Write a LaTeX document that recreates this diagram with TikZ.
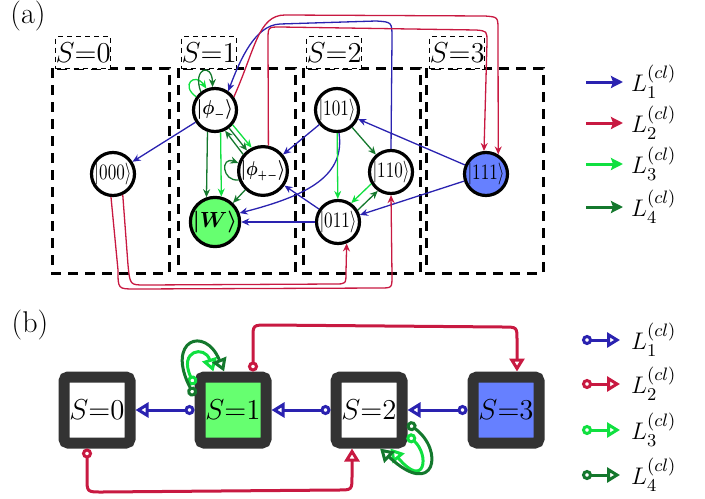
\documentclass[tikz,border=0pt]{standalone}
\usepackage{amsmath}
\usepackage{bm}
\usetikzlibrary{arrows.meta,calc}

\definecolor{cone}{HTML}{2A22B0}
\definecolor{ctwo}{HTML}{C81941}
\definecolor{cthree}{HTML}{10E040}
\definecolor{cfour}{HTML}{14782D}
\definecolor{wfill}{HTML}{66FF70}
\definecolor{tfill}{HTML}{6680FF}
\definecolor{boxgray}{HTML}{333333}

\newcommand{\nar}[2][0.78]{\scalebox{#1}[1]{#2}}

\begin{document}
\begin{tikzpicture}[x=0.5pt, y=-0.5pt,
  state/.style = {circle, draw, line width=1.6pt,
    minimum size=21.5pt, inner sep=0pt, fill=white, font=\fontsize{11}{13}\selectfont},
  colbox/.style = {draw, line width=1.5pt, dash pattern=on 5pt off 3.5pt},
  tagbox/.style = {draw, fill=white, line width=0.7pt,
    dash pattern=on 2.5pt off 2pt, minimum width=26.5pt, minimum height=16pt,
    inner sep=0pt, anchor=north west, font=\fontsize{14}{16}\selectfont},
  sbox/.style = {draw=boxgray, line width=5.5pt, rounded corners=2pt,
    minimum size=33pt, inner sep=0pt, font=\fontsize{15.5}{18}\selectfont},
  jump/.style = {line width=0.65pt, -{Stealth[length=4pt,width=3.5pt]}},
  legarrow/.style = {line width=1.5pt, -{Stealth[length=6pt,width=6pt,inset=1pt]}},
  rate/.style = {line width=1.5pt, {Circle[open,length=5pt]}-{Triangle[open,length=6.5pt,width=7.5pt]}},
  lab/.style = {anchor=west, font=\fontsize{13}{15}\selectfont}]
\useasboundingbox (0,0) rectangle (705,498);

% (a) sectors
\node[font=\fontsize{15}{17}\selectfont] (pa) at (28,16) {(a)};
\foreach \x/\s in {52/0,178/1,303/2,426/3} {
  \draw[colbox] (\x,68) rectangle ++(117,205);
  \node[tagbox] (tag\s) at (\x+3,36) {$S{=}\s$};
}

\node[state] (n000) at (113,174) {\nar{$|000\rangle$}};
\node[state, font=\normalsize] (phim) at (215,110) {\nar[0.85]{$\bm{|\phi_{\scriptscriptstyle -}\rangle}$}};
\node[state, font=\normalsize] (phipm) at (263,171) {\nar[0.82]{$\bm{|\phi_{\scriptscriptstyle +-}\rangle}$}};
\node[state, fill=wfill] (W) at (215,222) {$\bm{|W\rangle}$};
\node[state] (n101) at (337,110) {\nar{$|101\rangle$}};
\node[state] (n011) at (338,222) {\nar{$|011\rangle$}};
\node[state] (n110) at (391,172) {\nar{$|110\rangle$}};
\node[state, fill=tfill] (n111) at (486,174) {\nar{$|111\rangle$}};

% L1
\draw[jump, cone] (phim) -- (n000);
\draw[jump, cone] (n101) -- (phipm);
\draw[jump, cone] (n101.-85) .. controls (345,175) and (310,195) .. (W.20);
\draw[jump, cone] (n011) -- (W);
\draw[jump, cone] (n011) -- (phipm);
\draw[jump, cone] (n111) -- (n101);
\draw[jump, cone] (n111) -- (n011);
\draw[jump, cone] (n110.north) -- (392,38) .. controls (392,22) .. (376,21)
  -- (280,24) .. controls (255,25) and (240,60) .. (phim.55);

% L2
\draw[jump, ctwo] (phim.35) .. controls (255,50) and (258,15) .. (285,15)
  -- (485,16) .. controls (498,17) .. (498,30) -- (n111.58);
\draw[jump, ctwo] (phipm.78) -- (268,40) .. controls (268,27) .. (280,27)
  -- (476,30) .. controls (487,31) .. (487,42) -- (n111.95);
\draw[jump, ctwo] (n000.-95) -- (118,270) .. controls (118,289) .. (135,289)
  -- (380,288) .. controls (392,288) .. (392,276) -- (n110.south);
\draw[jump, ctwo] (n000.-65) -- (128,265) .. controls (130,285) .. (145,285)
  -- (335,284) .. controls (346,284) .. (346,272) -- (n011.-68);

% L3
\draw[jump, cthree] (phim.145) .. controls (180,85) and (195,72) .. (phim.112);
\draw[jump, cthree] (phim.-40) -- (phipm.116);
\draw[jump, cthree] (phim.-76) -- (W.76);
\draw[jump, cthree] (n101) -- (n011);
\draw[jump, cthree] (n110.211) -- (n011.55);

% L4
\draw[jump, cfour] (phim.128) .. controls (192,68) and (212,62) .. (phim.96);
\draw[jump, cfour] (phim.-52) -- (phipm.128);
\draw[jump, cfour] (phipm.140) -- (phim.-64);
\draw[jump, cfour] (phim.-109) -- (W.109);
\draw[jump, cfour] (phipm.200) .. controls (222,182) and (220,156) .. (phipm.162);
\draw[jump, cfour] (phipm) -- (W);
\draw[jump, cfour] (n101) -- (n110);
\draw[jump, cfour] (n011.31) -- (n110.235);

% legend (a)
\foreach \c/\i/\y in {cone/1/82,ctwo/2/123,cthree/3/164,cfour/4/207} {
  \draw[legarrow, \c] (586,\y) -- (623,\y);
  \node[lab] (la\i) at (624,\y) {$L_{\i}^{(cl)}$};
}

% (b) sectors
\node[font=\fontsize{15}{17}\selectfont] (pb) at (30,325) {(b)};
\node[sbox, fill=white] (S0) at (97,410) {$S{=}0$};
\node[sbox, fill=wfill] (S1) at (233,410) {$S{=}1$};
\node[sbox, fill=white] (S2) at (369,410) {$S{=}2$};
\node[sbox, fill=tfill] (S3) at (506,410) {$S{=}3$};

\draw[rate, cone] (S1.west) -- (S0.east);
\draw[rate, cone] (S2.west) -- (S1.east);
\draw[rate, cone] (S3.west) -- (S2.east);

\draw[rate, ctwo] ($(S0.south)+(-10,0)$) -- (87,478) .. controls (87,492) .. (102,492)
  -- (338,490) .. controls (352,490) .. (352,476) -- ($(S2.south)+(-17,0)$);
\draw[rate, ctwo] ($(S1.north)+(20,0)$) -- (253,338) .. controls (253,325) .. (268,325)
  -- (503,327) .. controls (517,327) .. (517,340) -- ($(S3.north)+(11,0)$);

\draw[rate, cthree] (S1.147) .. controls (178,350) and (205,345) .. (S1.117);
\draw[rate, cfour] (S1.160) .. controls (165,340) and (205,325) .. (S1.103);
\draw[rate, cthree] (S2.-33) .. controls (430,455) and (425,490) .. (S2.-61);
\draw[rate, cfour] (S2.-19) .. controls (445,450) and (435,500) .. (S2.-74);

% legend (b)
\foreach \c/\i/\y in {cone/1/340,ctwo/2/384,cthree/3/430,cfour/4/475} {
  \draw[rate, \c] (582,\y) -- (620,\y);
  \node[lab] (lb\i) at (624,\y) {$L_{\i}^{(cl)}$};
}
\end{tikzpicture}
\end{document}
